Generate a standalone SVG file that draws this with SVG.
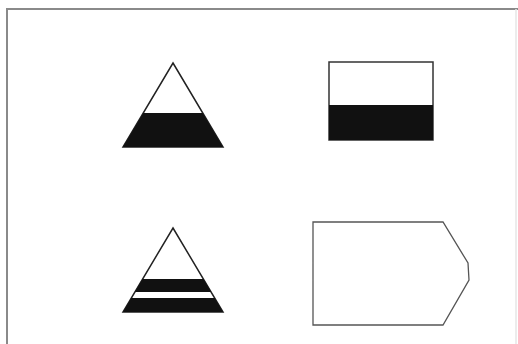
<svg xmlns="http://www.w3.org/2000/svg" width="518" height="344" viewBox="0 0 518 344">
<style>
.frame{stroke:#8a8a8a;stroke-width:2;fill:none}
.outline{fill:#fff;stroke:#222;stroke-width:1.5;stroke-linejoin:miter}
.band{fill:#111;stroke:none}
.thin{fill:#fff;stroke:#555;stroke-width:1.3}
</style>
<rect width="518" height="344" fill="#fff"/>
<g id="frame">
<path class="frame" d="M7,344 V9 H518"/>
<path d="M516,9 V344" stroke="#e6e6e6" stroke-width="1.5" fill="none"/>
</g>
<g id="triangle1">
<polygon class="outline" points="173,63 223,147 123,147"/>
<polygon class="band" points="143.3,113 202.7,113 223,147 123,147"/>
</g>
<g id="rect1">
<rect x="329" y="62" width="104" height="78" fill="#fff" stroke="#333" stroke-width="1.5"/>
<rect x="329" y="105" width="104" height="35" class="band"/>
</g>
<g id="triangle2">
<polygon class="outline" points="173,228 223,312 123,312"/>
<polygon class="band" points="142.5,279 203.5,279 211.2,292 134.8,292"/>
<polygon class="band" points="131.3,298 214.7,298 223,312 123,312"/>
</g>
<g id="pentagon">
<polygon class="thin" points="313,222 443,222 468,263 469,280 443,325 313,325"/>
</g>
</svg>
